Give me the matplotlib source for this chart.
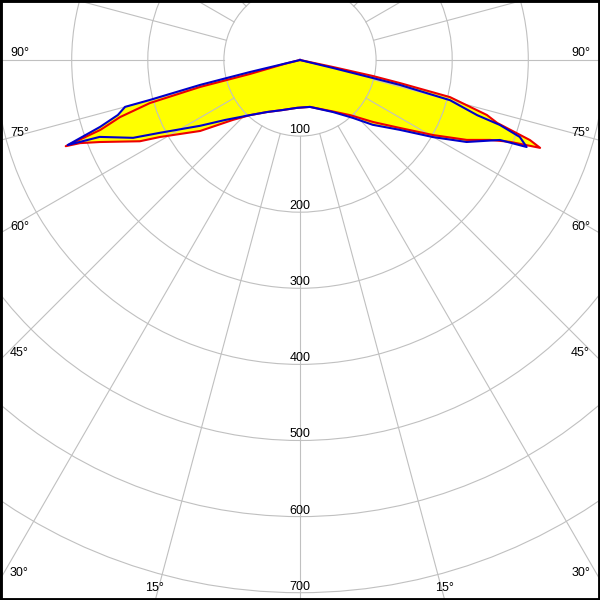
import numpy as np
import matplotlib
matplotlib.use("Agg")
import matplotlib.pyplot as plt
from matplotlib.patches import Circle, Polygon

# ---- data: (gamma in degrees, intensity in cd) along each curve ----
blue_gamma = [-90, -76.5, -76.5, -76, -75.1, -75.0, -73.2, -71.5, -69.9, -69.0, -65.0,
              -62.5, -56.6, -51.3, -42.3, -32.4, -19.8, -3.6, 12, 32.4, 42.4, 48.3,
              55, 59.9, 63.8, 68.2, 69.0, 70.7, 72.0, 72.7, 75.0, 76.0, 76.1, 76.4, 90]
blue_cd = [0, 30, 68, 135, 204, 238, 250, 277, 325, 282, 242,
           207, 157, 126, 98, 81, 70, 63, 63, 81, 103, 128,
           160, 202, 244, 283, 319, 306, 276, 244, 204, 135, 99, 45, 0]

red_gamma = [-90, -76.0, -74.4, -74.9, -74.0, -72.4, -70.7, -69.8, -69.3, -67.7, -63.1,
             -61.2, -54.6, -48.2, -42.3, -32.4, -19.8, -3.6, 12, 32.4, 42.3, 49.7,
             55.8, 60.6, 64.4, 67.2, 68.7, 69.9, 70.8, 72.3, 73.6, 76.1, 77.0, 77.6, 78.0, 90]
red_cd = [0, 20, 68, 136, 205, 248, 278, 328, 309, 284, 236,
          210, 161, 118, 98, 81, 70, 63, 63, 80, 98, 126,
          159, 201, 243, 271, 296, 336, 320, 272, 256, 203, 135, 98, 44, 0]

fill_gamma = [-90, -76.5, -76.5, -76, -75.1, -75.0, -73.2, -71.5, -69.8, -69.3, -67.7,
              -63.1, -61.2, -54.6, -48.2, -42.3, -32.4, -19.8, -3.6, 12, 32.4, 42.4,
              48.3, 55, 59.9, 63.8, 68.2, 69.5, 69.9, 70.8, 72.3, 73.6, 76.1, 77.0,
              77.6, 78.0, 90]
fill_cd = [0, 30, 68, 135, 204, 238, 250, 277, 328, 309, 284,
           236, 210, 161, 118, 98, 81, 70, 63, 63, 81, 103,
           128, 160, 202, 244, 283, 322, 336, 320, 272, 256, 203, 135,
           98, 44, 0]

ring_values = [100, 200, 300, 400, 500, 600, 700]
angle_labels = ["90°", "75°", "60°", "45°", "30°", "15°"]

# ---- geometry ----
S = 0.761  # pixels per cd
W = H = 600
CX, CY = 300, 60


def px(x, y):
    return (x - CX) / S, (CY - y) / S


def to_xy(g, r):
    g = np.radians(np.asarray(g, float))
    r = np.asarray(r, float)
    return r * np.sin(g), -r * np.cos(g)


fig = plt.figure(figsize=(6, 6), dpi=100)
ax = fig.add_axes([0, 0, 1, 1])
x0, y1 = px(0, 0)
x1, y0 = px(W, H)
ax.set_xlim(x0, x1)
ax.set_ylim(y0, y1)
ax.set_xticks([])
ax.set_yticks([])
for sp in ax.spines.values():
    sp.set_color("black")
    sp.set_linewidth(3.5)

# filled distribution
fx, fy = to_xy(fill_gamma, fill_cd)
ax.add_patch(Polygon(np.column_stack([fx, fy]), closed=True, facecolor="#ffff00",
                     edgecolor="none", zorder=1))

# grid
gc = "#c0c0c0"
for rv in ring_values:
    ax.add_patch(Circle((0, 0), rv, fill=False, edgecolor=gc, linewidth=0.8, zorder=2))
for a in range(0, 360, 15):
    lx, ly = to_xy([a, a], [ring_values[0], 2000])
    ax.plot(lx, ly, color=gc, linewidth=0.8, zorder=2)

# curves
rx, ry = to_xy(red_gamma, red_cd)
ax.plot(rx, ry, color="#ee0000", linewidth=1.5, zorder=3, solid_joinstyle="round")
bx, by = to_xy(blue_gamma, blue_cd)
ax.plot(bx, by, color="#0000cc", linewidth=1.5, zorder=4, solid_joinstyle="round")

# labels
fnt = dict(family=["Liberation Sans", "DejaVu Sans"], fontsize=9, color="black", zorder=5)
for rv in ring_values:
    ax.text(0, -rv + 6 / S, str(rv), ha="center", va="center", **fnt)

left_y = [53, 133, 227, 353, 573]
for lab, yy in zip(angle_labels[:5], left_y):
    xl, yl = px(10, yy)
    ax.text(xl, yl, lab, ha="left", va="center", **fnt)
    xr, yr = px(590, yy)
    ax.text(xr, yr, lab, ha="right", va="center", **fnt)
for xx in (154, 445):
    xb, yb = px(xx, 588)
    ax.text(xb, yb, angle_labels[5], ha="center", va="center", **fnt)

fig.savefig("out.png", dpi=100)
